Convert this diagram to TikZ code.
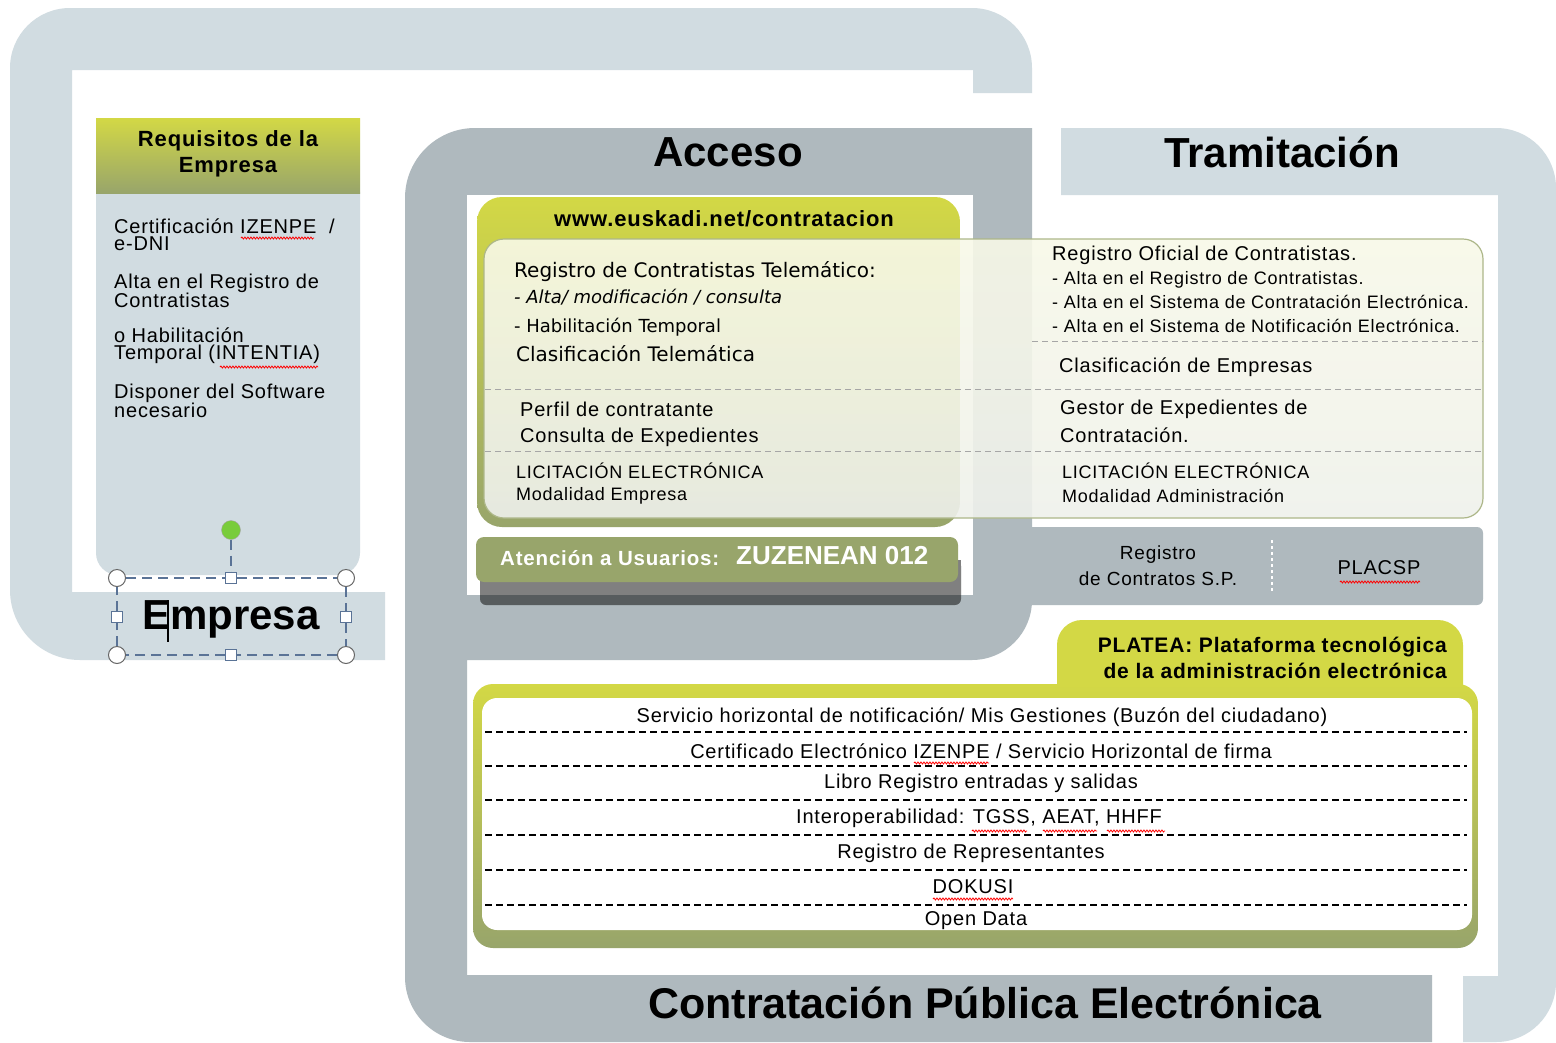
\documentclass[tikz,border=0pt]{standalone}
\usepackage{fontspec}
\setmainfont{Liberation Sans}[LetterSpace=4]
\newfontfamily\titulofont{Liberation Sans}
\newfontfamily\comicfont{DejaVu Sans}
\usetikzlibrary{decorations.pathmorphing}

\definecolor{grisclaro}{HTML}{D1DCE1}
\definecolor{grisoscuro}{HTML}{AFB9BE}
\definecolor{amarillo}{HTML}{D3D845}
\definecolor{oliva}{HTML}{98A56B}
\definecolor{crema}{HTML}{F8F9E8}
\definecolor{cremaclara}{HTML}{EFF1EC}
\definecolor{azulsel}{HTML}{5A7396}
\definecolor{verdegiro}{HTML}{79CC3B}
\definecolor{sombra}{HTML}{808080}
\definecolor{sombraosc}{HTML}{575C5E}

\tikzset{
  texto/.style={anchor=west,inner sep=0pt,align=left,font=\fontsize{20}{20}\selectfont},
  textop/.style={anchor=west,inner sep=0pt,align=left,font=\fontsize{18}{18}\selectfont},
  requi/.style={anchor=west,inner sep=0pt,align=left,font=\fontsize{20}{17}\selectfont},
  comic/.style={anchor=west,inner sep=0pt,font=\comicfont\fontsize{20}{20}\selectfont},
  comicp/.style={anchor=west,inner sep=0pt,font=\comicfont\fontsize{18}{18}\selectfont},
  lista/.style={inner sep=0pt,font=\fontsize{20}{20}\selectfont},
  titulo/.style={inner sep=0pt,font=\titulofont\bfseries\fontsize{42}{46}\selectfont},
  raya/.style={dash pattern=on 6pt off 4pt,draw=black!35,line width=1pt},
  rayanegra/.style={dash pattern=on 7pt off 4pt,line width=1.2pt},
  ondulado/.style={red,line width=.8pt,decorate,decoration={snake,amplitude=1pt,segment length=3pt}},
  sel/.style={draw=azulsel,dash pattern=on 10pt off 6pt,line width=1.2pt},
  esquina/.style={circle,draw=gray!80!black,fill=white,minimum size=17pt,inner sep=0pt,line width=1pt},
  cuadro/.style={rectangle,draw=azulsel,fill=white,minimum size=11pt,inner sep=0pt,line width=1pt},
}

\begin{document}
\begin{tikzpicture}[x=1pt,y=-1pt]
\useasboundingbox (0,0) rectangle (1556,1042);
\fill[white] (0,0) rectangle (1556,1042);

% marcos
\fill[grisclaro] (385,660) -- (80,660) arc[start angle=90,end angle=180,radius=70] -- (10,68) arc[start angle=180,end angle=270,radius=60] -- (972,8) arc[start angle=270,end angle=360,radius=60] -- (1032,93) -- (973,93) -- (973,70) -- (72,70) -- (72,592) -- (385,592) -- cycle;
\fill[grisoscuro] (1432,1042) -- (1432,975) -- (467,975) -- (467,660) -- (972,660) arc[start angle=90,end angle=0,radius=60] -- (1032,128) -- (475,128) arc[start angle=270,end angle=180,radius=70] -- (405,977) arc[start angle=180,end angle=90,radius=65] -- cycle;
\fill[white] (467,195) rectangle (973,595);
\fill[grisclaro] (1061,195) -- (1061,128) -- (1496,128) arc[start angle=270,end angle=360,radius=60] -- (1556,982) arc[start angle=0,end angle=90,radius=60] -- (1463,1042) -- (1463,976) -- (1498,976) -- (1498,195) -- cycle;

% requisitos
\fill[grisclaro,rounded corners=22pt] (96,170) rectangle (360,575);
\shade[top color=amarillo,bottom color=oliva] (96,118) rectangle (360,193);
\node[inner sep=0pt,align=center,font=\bfseries\fontsize{22}{26}\selectfont] (requisitos) at (228,154) {Requisitos de la\\Empresa};
\node[requi] (req1) at (114,235) {Certificación IZENPE \ /\\e-DNI};
\node[requi] (req2) at (114,291) {Alta en el Registro de\\Contratistas};
\node[requi] (req3) at (114,346) {o Habilitación\\Temporal (INTENTIA)};
\node[requi] (req4) at (114,401) {Disponer del Software\\necesario};
\draw[ondulado] (241,238) -- (314,238);
\draw[ondulado] (220,367) -- (318,367);

% empresa seleccionada
\node[titulo] (empresa) at (231,619) {Empresa};
\draw[line width=1.5pt] (168,600) -- (168,642);
\node[esquina] (si) at (117,578) {};
\node[esquina] (sd) at (346,578) {};
\node[esquina] (ii) at (117,655) {};
\node[esquina] (id) at (346,655) {};
\node[cuadro] (sm) at (231,578) {};
\node[cuadro] (im) at (231,655) {};
\node[cuadro] (mi) at (117,617) {};
\node[cuadro] (md) at (346,617) {};
\node[circle,draw=gray!70,fill=verdegiro,minimum size=19pt,inner sep=0pt] (giro) at (231,530) {};
\draw[sel] (si) -- (sm);
\draw[sel] (sm) -- (sd);
\draw[sel] (sd) -- (md);
\draw[sel] (md) -- (id);
\draw[sel] (id) -- (im);
\draw[sel] (im) -- (ii);
\draw[sel] (ii) -- (mi);
\draw[sel] (mi) -- (si);
\draw[sel] (giro) -- (sm);

% acceso
\node[titulo] (acceso) at (728,152) {Acceso};
\shade[top color=amarillo,middle color=amarillo!55!oliva,bottom color=oliva,rounded corners=25pt] (477,197) rectangle (960,527);
\node[inner sep=0pt,font=\bfseries\fontsize{22}{24}\selectfont] (web) at (724,219) {www.euskadi.net/contratacion};
\shadedraw[top color=crema,bottom color=cremaclara,draw=oliva!80,line width=1.2pt,fill opacity=.9,rounded corners=20pt] (484,239) rectangle (1483,518);
\draw[raya] (1032,341) -- (1483,341);
\draw[raya] (485,389) -- (1483,389);
\draw[raya] (485,451) -- (1483,451);
\node[comic] (rct) at (514,272) {Registro de Contratistas Telemático:};
\node[comicp,font=\comicfont\itshape\fontsize{18}{18}\selectfont] (altamod) at (514,297) {- Alta/ modificación / consulta};
\node[comicp] (habil) at (514,327) {- Habilitación Temporal};
\node[comic] (clastel) at (516,354) {Clasificación Telemática};
\node[texto] (perfil) at (520,409) {Perfil de contratante};
\node[texto] (consulta) at (520,437) {Consulta de Expedientes};
\node[textop] (licemp) at (516,471) {LICITACIÓN ELECTRÓNICA};
\node[textop] (modemp) at (516,496) {Modalidad Empresa};

% atencion a usuarios
\fill[sombraosc,rounded corners=6pt] (480,560) rectangle (961,605);
\fill[sombra] (480,560) rectangle (961,595);
\fill[oliva,rounded corners=8pt] (476,537) rectangle (958,582);
\node[anchor=west,inner sep=0pt,text=white,font=\bfseries\fontsize{20.5}{22}\selectfont] (atencion) at (500,558) {Atención a Usuarios:};
\node[anchor=west,inner sep=0pt,text=white,font=\titulofont\bfseries\fontsize{26}{28}\selectfont] (zuzenean) at (736,556) {ZUZENEAN 012};

% tramitacion
\node[titulo] (tramitacion) at (1282,152) {Tramitación};
\node[texto] (roc) at (1052,255) {Registro Oficial de Contratistas.};
\node[textop] (roc1) at (1052,280) {- Alta en el Registro de Contratistas.};
\node[textop] (roc2) at (1052,302) {- Alta en el Sistema de Contratación Electrónica.};
\node[textop] (roc3) at (1052,326) {- Alta en el Sistema de Notificación Electrónica.};
\node[texto] (clasemp) at (1059,367) {Clasificación de Empresas};
\node[texto] (gestor) at (1060,409) {Gestor de Expedientes de};
\node[texto] (gestorb) at (1060,435) {Contratación.};
\node[textop] (licadm) at (1062,471) {LICITACIÓN ELECTRÓNICA};
\node[textop] (modadm) at (1062,496) {Modalidad Administración};

% registro de contratos
\fill[grisoscuro,rounded corners=6pt] (1020,527) rectangle (1483,605);
\draw[white,dashed,line width=1.2pt] (1272,540) -- (1272,592);
\node[lista,align=center,font=\fontsize{19}{26}\selectfont] (regcont) at (1158,566) {Registro\\de Contratos S.P.};
\node[lista] (placsp) at (1379,568) {PLACSP};
\draw[ondulado] (1340,582) -- (1420,582);

% platea
\fill[amarillo,rounded corners=25pt] (1057,620) rectangle (1463,720);
\node[anchor=east,inner sep=0pt,align=right,font=\bfseries\fontsize{21}{26}\selectfont] (platea) at (1447,658) {PLATEA: Plataforma tecnológica\\de la administración electrónica};
\shade[top color=amarillo,middle color=amarillo!50!oliva,bottom color=oliva,rounded corners=20pt] (473,684) rectangle (1478,948);
\fill[white,rounded corners=15pt] (482,698) rectangle (1472,930);
\foreach \y in {732,766,800,835,870,905}
  \draw[rayanegra] (485,\y) -- (1467,\y);
\node[lista] (buzon) at (982,717) {Servicio horizontal de notificación/ Mis Gestiones (Buzón del ciudadano)};
\node[lista] (certif) at (981,751) {Certificado Electrónico IZENPE / Servicio Horizontal de firma};
\node[lista] (libro) at (981,783) {Libro Registro entradas y salidas};
\node[lista] (interop) at (979,818) {Interoperabilidad: TGSS, AEAT, HHFF};
\node[lista] (represent) at (971,853) {Registro de Representantes};
\node[lista] (dokusi) at (973,887) {DOKUSI};
\node[lista] (opendata) at (976,921) {Open Data};
\draw[ondulado] (914,763) -- (989,763);
\draw[ondulado] (972,831) -- (1027,831);
\draw[ondulado] (1043,831) -- (1097,831);
\draw[ondulado] (1107,831) -- (1165,831);
\draw[ondulado] (933,899) -- (1013,899);

% pie
\node[titulo,font=\titulofont\bfseries\fontsize{43}{46}\selectfont] (contratacion) at (985,1003) {Contratación Pública Electrónica};
\end{tikzpicture}
\end{document}
